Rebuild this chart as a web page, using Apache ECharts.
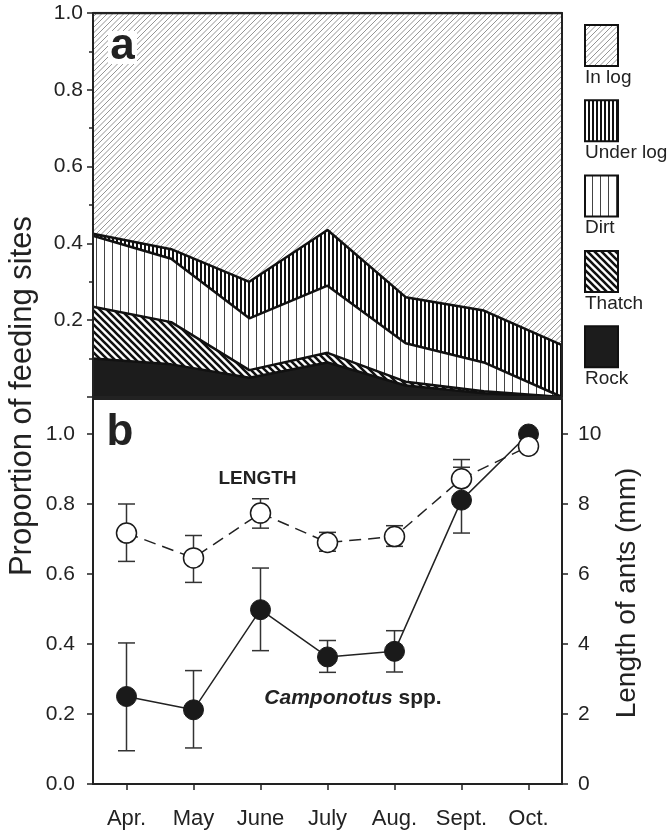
<!DOCTYPE html>
<html>
<head>
<meta charset="utf-8">
<title>Feeding sites and ant length</title>
<script src="https://cdn.jsdelivr.net/npm/echarts@6/dist/echarts.min.js"></script>
<style>
  html, body { margin: 0; padding: 0; background: #fff; }
  #chart { width: 669px; height: 833px; }
</style>
</head>
<body>
<div id="chart"></div>
<script>
// months on both panels
var months = ['Apr.', 'May', 'June', 'July', 'Aug.', 'Sept.', 'Oct.'];

// panel a: proportion of feeding sites (stacked, bottom to top)
var siteNames = ['Rock', 'Thatch', 'Dirt', 'Under log', 'In log'];
var rock     = [0.100, 0.085, 0.050, 0.090, 0.030, 0.010, 0.000];
var thatch   = [0.135, 0.110, 0.020, 0.025, 0.010, 0.005, 0.000];
var dirt     = [0.185, 0.165, 0.135, 0.175, 0.100, 0.075, 0.000];
var underLog = [0.005, 0.025, 0.095, 0.145, 0.120, 0.135, 0.135];
var inLog    = [0.575, 0.615, 0.700, 0.565, 0.740, 0.775, 0.865];

// panel b: proportion of Camponotus (left axis) and ant length in mm (right axis)
var camponotus     = [0.250, 0.212, 0.498, 0.363, 0.379, 0.811, 1.000];
var camponotusLow  = [0.095, 0.103, 0.381, 0.319, 0.320, 0.717, null];
var camponotusHigh = [0.403, 0.324, 0.617, 0.410, 0.438, 0.905, null];
var antLength      = [7.17, 6.46, 7.74, 6.90, 7.07, 8.72, 9.65];
var antLengthLow   = [6.36, 5.76, 7.31, 6.65, 6.79, 8.17, null];
var antLengthHigh  = [8.00, 7.10, 8.15, 7.19, 7.38, 9.27, null];

var FONT = '"Liberation Sans", Arial, Helvetica, sans-serif';
var INK = '#222';

// hatch fills drawn on small canvases
function makePattern(size, draw) {
    var c = document.createElement('canvas');
    c.width = size;
    c.height = size;
    var ctx = c.getContext('2d');
    ctx.fillStyle = '#fff';
    ctx.fillRect(0, 0, size, size);
    draw(ctx, size);
    return { image: c, repeat: 'repeat' };
}

var patterns = {
    'Rock': '#1c1c1c',
    'Thatch': makePattern(7, function (ctx, s) {
        ctx.strokeStyle = '#111';
        ctx.lineWidth = 2.6;
        ctx.beginPath();
        for (var k = -1; k <= 1; k++) {
            ctx.moveTo(k * s - 1, -1);
            ctx.lineTo(k * s + s + 1, s + 1);
        }
        ctx.stroke();
    }),
    'Dirt': makePattern(8, function (ctx, s) {
        ctx.strokeStyle = '#444';
        ctx.lineWidth = 1;
        ctx.beginPath();
        ctx.moveTo(0.5, 0);
        ctx.lineTo(0.5, s);
        ctx.stroke();
    }),
    'Under log': makePattern(4, function (ctx, s) {
        ctx.fillStyle = '#111';
        ctx.fillRect(0, 0, 2, s);
    }),
    'In log': makePattern(11, function (ctx, s) {
        ctx.strokeStyle = '#888';
        ctx.lineWidth = 0.9;
        ctx.beginPath();
        for (var k = 0; k <= 4; k++) {
            var d = k * 5.5;
            ctx.moveTo(d - s - 1, s + 1);
            ctx.lineTo(d + 1, -1);
        }
        ctx.stroke();
    })
};

var siteData = {
    'Rock': rock,
    'Thatch': thatch,
    'Dirt': dirt,
    'Under log': underLog,
    'In log': inLog
};

var myChart = echarts.init(document.getElementById('chart'));

var siteSeries = siteNames.map(function (name, i) {
    return {
        name: name,
        type: 'line',
        xAxisIndex: 0,
        yAxisIndex: 0,
        stack: 'sites',
        data: siteData[name],
        symbol: 'none',
        silent: true,
        lineStyle: { color: '#111', width: 2.5 },
        areaStyle: { color: patterns[name], opacity: 1 },
        z: 10 - i
    };
});

function errorSeries(name, low, high, yAxisIndex) {
    var data = [];
    for (var i = 0; i < low.length; i++) {
        if (low[i] != null) data.push([i, low[i], high[i]]);
    }
    return {
        name: name,
        type: 'custom',
        xAxisIndex: 2,
        yAxisIndex: yAxisIndex,
        data: data,
        encode: { x: 0, y: [1, 2] },
        silent: true,
        z: 4,
        renderItem: function (params, api) {
            var x = api.value(0);
            var lo = api.coord([x, api.value(1)]);
            var hi = api.coord([x, api.value(2)]);
            var w = 8.5;
            var st = { stroke: '#333', lineWidth: 1.5 };
            return {
                type: 'group',
                children: [
                    { type: 'line', shape: { x1: lo[0], y1: lo[1], x2: hi[0], y2: hi[1] }, style: st },
                    { type: 'line', shape: { x1: lo[0] - w, y1: lo[1], x2: lo[0] + w, y2: lo[1] }, style: st },
                    { type: 'line', shape: { x1: hi[0] - w, y1: hi[1], x2: hi[0] + w, y2: hi[1] }, style: st }
                ]
            };
        }
    };
}

var borderLine = { show: true, onZero: false, lineStyle: { color: INK, width: 2 } };

// legend boxes at the right of panel a, plus panel letters and titles
var graphics = [];
siteNames.slice().reverse().forEach(function (name, k) {
    var top = 25 + k * 75.3;
    graphics.push({
        type: 'rect', z: 100,
        shape: { x: 585, y: top, width: 33, height: 41 },
        style: { fill: patterns[name], stroke: '#111', lineWidth: 2 }
    });
    graphics.push({
        type: 'text', z: 100, x: 585, y: top + 43,
        style: { text: name, font: '19px ' + FONT, fill: INK,
                 align: 'left', verticalAlign: 'top', textAlign: 'left', textVerticalAlign: 'top' }
    });
});
graphics.push(
    { type: 'rect', z: 100, shape: { x: 108, y: 31, width: 29, height: 33 }, style: { fill: '#fff' } },
    { type: 'text', z: 101, x: 122.5, y: 47,
      style: { text: 'a', font: 'bold 44px ' + FONT, fill: INK,
               align: 'center', verticalAlign: 'middle', textAlign: 'center', textVerticalAlign: 'middle' } },
    { type: 'text', z: 101, x: 120, y: 433,
      style: { text: 'b', font: 'bold 44px ' + FONT, fill: INK,
               align: 'center', verticalAlign: 'middle', textAlign: 'center', textVerticalAlign: 'middle' } },
    { type: 'text', z: 101, x: 257.5, y: 479,
      style: { text: 'LENGTH', font: 'bold 19px ' + FONT, fill: INK,
               align: 'center', verticalAlign: 'middle', textAlign: 'center', textVerticalAlign: 'middle' } },
    { type: 'text', z: 101, x: 353, y: 698,
      style: {
          text: '{i|Camponotus} {n|spp.}',
          font: 'bold 21px ' + FONT, fill: INK,
          align: 'center', verticalAlign: 'middle', textAlign: 'center', textVerticalAlign: 'middle',
          rich: {
              i: { fontStyle: 'italic', fontWeight: 'bold', fontSize: 21, fontFamily: FONT, fill: INK },
              n: { fontWeight: 'bold', fontSize: 21, fontFamily: FONT, fill: INK }
          }
      } },
    { type: 'text', z: 101, x: 22, y: 396, rotation: Math.PI / 2,
      style: { text: 'Proportion of feeding sites', font: '31px ' + FONT, fill: INK,
               align: 'center', verticalAlign: 'middle', textAlign: 'center', textVerticalAlign: 'middle' } },
    { type: 'text', z: 101, x: 627, y: 593, rotation: Math.PI / 2,
      style: { text: 'Length of ants (mm)', font: '28px ' + FONT, fill: INK,
               align: 'center', verticalAlign: 'middle', textAlign: 'center', textVerticalAlign: 'middle' } }
);

option = {
    backgroundColor: '#fff',
    animation: false,
    textStyle: { fontFamily: FONT },
    grid: [
        { left: 93, width: 469, top: 13, height: 384 },
        { left: 93, width: 469, top: 399, height: 385 }
    ],
    xAxis: [
        { gridIndex: 0, type: 'category', data: months, boundaryGap: false, position: 'bottom',
          axisLine: borderLine, axisTick: { show: false }, axisLabel: { show: false },
          splitLine: { show: false }, z: 20 },
        { gridIndex: 0, type: 'category', data: months, boundaryGap: false, position: 'top',
          axisLine: borderLine, axisTick: { show: false }, axisLabel: { show: false },
          splitLine: { show: false }, z: 20 },
        { gridIndex: 1, type: 'category', data: months, boundaryGap: true, position: 'bottom',
          axisLine: borderLine,
          axisTick: { show: true, alignWithLabel: true, length: 6, lineStyle: { color: INK, width: 1.5 } },
          axisLabel: { fontSize: 22, color: INK, margin: 24, fontFamily: FONT },
          splitLine: { show: false }, z: 20 },
        { gridIndex: 1, type: 'category', data: months, boundaryGap: true, position: 'top',
          axisLine: borderLine, axisTick: { show: false }, axisLabel: { show: false },
          splitLine: { show: false }, z: 20 }
    ],
    yAxis: [
        { gridIndex: 0, type: 'value', min: 0, max: 1, interval: 0.2, position: 'left',
          axisLine: borderLine,
          axisTick: { show: true, length: 6, lineStyle: { color: INK, width: 1.5 } },
          minorTick: { show: true, splitNumber: 2, length: 4, lineStyle: { color: INK, width: 1.5 } },
          axisLabel: { fontSize: 21, color: INK, margin: 10, fontFamily: FONT,
                       formatter: function (v) { return v === 0 ? '' : v.toFixed(1); } },
          splitLine: { show: false }, minorSplitLine: { show: false }, z: 20 },
        { gridIndex: 0, type: 'value', min: 0, max: 1, position: 'right',
          axisLine: borderLine, axisTick: { show: false }, axisLabel: { show: false },
          splitLine: { show: false }, z: 20 },
        { gridIndex: 1, type: 'value', min: 0, max: 1.1, interval: 0.2, position: 'left',
          axisLine: borderLine,
          axisTick: { show: true, length: 6, lineStyle: { color: INK, width: 1.5 } },
          axisLabel: { fontSize: 21, color: INK, margin: 18, fontFamily: FONT, showMaxLabel: false,
                       formatter: function (v) { return v > 1.001 ? '' : v.toFixed(1); } },
          splitLine: { show: false }, z: 20 },
        { gridIndex: 1, type: 'value', min: 0, max: 11, interval: 2, position: 'right',
          axisLine: borderLine,
          axisTick: { show: true, length: 6, lineStyle: { color: INK, width: 1.5 } },
          axisLabel: { fontSize: 21, color: INK, margin: 16, fontFamily: FONT, showMaxLabel: false,
                       formatter: function (v) { return v > 10 ? '' : String(v); } },
          splitLine: { show: false }, z: 20 }
    ],
    graphic: graphics,
    series: siteSeries.concat([
        errorSeries('Camponotus error', camponotusLow, camponotusHigh, 2),
        errorSeries('Length error', antLengthLow, antLengthHigh, 3),
        {
            name: 'Camponotus spp.',
            type: 'line',
            xAxisIndex: 2,
            yAxisIndex: 2,
            data: camponotus,
            symbol: 'circle',
            symbolSize: 20,
            showSymbol: true,
            silent: true,
            itemStyle: { color: '#1a1a1a', borderColor: '#1a1a1a', borderWidth: 1 },
            lineStyle: { color: INK, width: 1.5 },
            z: 6
        },
        {
            name: 'LENGTH',
            type: 'line',
            xAxisIndex: 2,
            yAxisIndex: 3,
            data: antLength,
            symbol: 'circle',
            symbolSize: 20,
            showSymbol: true,
            silent: true,
            itemStyle: { color: '#fff', borderColor: '#1a1a1a', borderWidth: 1.5 },
            lineStyle: { color: INK, width: 1.5, type: [12, 7] },
            z: 7
        }
    ])
};

myChart.setOption(option);
</script>
</body>
</html>
